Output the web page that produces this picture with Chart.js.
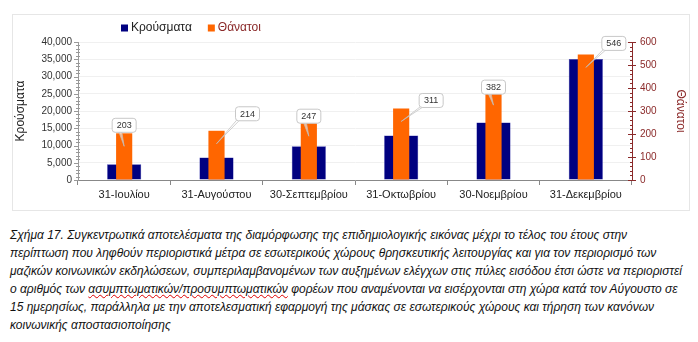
<!DOCTYPE html>
<html>
<head>
<meta charset="utf-8">
<script src="https://cdn.jsdelivr.net/npm/chart.js@4"></script>
<style>
  body { margin: 0; background: #fff; width: 698px; height: 342px; overflow: hidden; font-family: "Liberation Sans", Arial, sans-serif; }
  #box { position: absolute; left: 12px; top: 14px; width: 676px; height: 195px; border: 1px solid #e6e6e6; }
  #caption { position: absolute; left: 10px; top: 226px; font-style: italic; font-size: 12px; line-height: 18px; color: #111; white-space: nowrap; }
  .sp { text-decoration: underline wavy #d00; text-decoration-thickness: 1px; }
</style>
</head>
<body>
<div id="box"><canvas id="chart" width="676" height="195"></canvas></div>
<div id="caption">Σχήμα 17. Συγκεντρωτικά αποτελέσματα της διαμόρφωσης της επιδημιολογικής εικόνας μέχρι το τέλος του έτους στην<br>
περίπτωση που ληφθούν περιοριστικά μέτρα σε εσωτερικούς χώρους θρησκευτικής λειτουργίας και για τον περιορισμό των<br>
μαζικών κοινωνικών εκδηλώσεων, συμπεριλαμβανομένων των αυξημένων ελέγχων στις πύλες εισόδου έτσι ώστε να περιοριστεί<br>
ο αριθμός των <span class="sp">ασυμπτωματικών/προσυμπτωματικών</span> φορέων που αναμένονται να εισέρχονται στη χώρα κατά τον Αύγουστο σε<br>
15 ημερησίως, παράλληλα με την αποτελεσματική εφαρμογή της μάσκας σε εσωτερικούς χώρους και τήρηση των κανόνων<br>
κοινωνικής αποστασιοποίησης</div>
<script>
// δεδομένα
const labels = ['31-Ιουλίου', '31-Αυγούστου', '30-Σεπτεμβρίου', '31-Οκτωβρίου', '30-Νοεμβρίου', '31-Δεκεμβρίου'];
const krousmata = [4600, 6500, 9800, 12900, 16700, 35100];
const thanatoi = [203, 214, 247, 311, 382, 546];

// θέση των ετικετών (dx, dy από την κορυφή της μπάρας)
const calloutOffsets = [[0, -8], [31, -17], [0, -7], [30, -8], [0, -5], [28, -11]];

const darkRed = '#8b2a2a';
const font = "'Liberation Sans', Arial, sans-serif";

const minorTicks = {
  id: 'minorTicks',
  afterDraw(chart) {
    const ctx = chart.ctx;
    const y = chart.scales.y, y1 = chart.scales.y1;
    ctx.save();
    ctx.lineWidth = 1;
    ctx.strokeStyle = '#999';
    for (let v = 0; v <= 40000; v += 1000) {
      const py = Math.round(y.getPixelForValue(v)) + 0.5;
      const major = v % 5000 === 0;
      ctx.beginPath();
      ctx.moveTo(y.right - (major ? 4 : 2), py);
      ctx.lineTo(y.right + (major ? 0 : 2), py);
      ctx.stroke();
    }
    ctx.strokeStyle = darkRed;
    for (let v = 0; v <= 600; v += 20) {
      const py = Math.round(y1.getPixelForValue(v)) + 0.5;
      const major = v % 100 === 0;
      ctx.beginPath();
      ctx.moveTo(y1.left - (major ? 4 : 2), py);
      ctx.lineTo(y1.left + (major ? 4 : 0), py);
      ctx.stroke();
    }
    ctx.restore();
  }
};

// υπόμνημα
const legendBox = {
  id: 'legendBox',
  afterDraw(chart) {
    const ctx = chart.ctx;
    const ly = chart.chartArea.top - 14;
    let lx = 108;
    ctx.save();
    ctx.font = '12px ' + font;
    ctx.textBaseline = 'middle';
    chart.data.datasets.forEach((ds, i) => {
      ctx.fillStyle = ds.backgroundColor;
      ctx.fillRect(lx, ly - 3.5, 7, 7);
      ctx.fillStyle = i === 0 ? '#222' : darkRed;
      ctx.fillText(ds.label, lx + 10, ly);
      lx += 10 + ctx.measureText(ds.label).width + 16;
    });
    ctx.restore();
  }
};

const callouts = {
  id: 'callouts',
  afterDatasetsDraw(chart) {
    const ctx = chart.ctx;
    const meta = chart.getDatasetMeta(1);
    ctx.save();
    ctx.font = '9px ' + font;
    ctx.textAlign = 'center';
    ctx.textBaseline = 'middle';
    meta.data.forEach((bar, i) => {
      const [dx, dy] = calloutOffsets[i];
      const bx = bar.x + dx, by = bar.y + dy;
      const w = 24, h = 14;
      const tx = bar.x, ty = bar.y + 13;
      const sx = dx === 0 ? bx - 4 : bx - w / 2 + 3;
      const sy = by + h / 2 - 1;
      ctx.beginPath();
      ctx.moveTo(sx - 1.5, sy);
      ctx.lineTo(tx, ty);
      ctx.lineTo(sx + 1.5, sy);
      ctx.fillStyle = 'rgba(255,255,255,0.55)';
      ctx.fill();
      ctx.strokeStyle = 'rgba(190,190,190,0.9)';
      ctx.lineWidth = 0.8;
      ctx.stroke();
      ctx.beginPath();
      ctx.roundRect(bx - w / 2, by - h / 2, w, h, 3);
      ctx.fillStyle = '#fff';
      ctx.fill();
      ctx.strokeStyle = '#c8c8c8';
      ctx.lineWidth = 1;
      ctx.stroke();
      ctx.fillStyle = '#333';
      ctx.fillText(String(thanatoi[i]), bx, by + 0.5);
    });
    ctx.restore();
  }
};

new Chart(document.getElementById('chart'), {
  type: 'bar',
  data: {
    labels: labels,
    datasets: [
      {
        label: 'Κρούσματα',
        data: krousmata,
        yAxisID: 'y',
        backgroundColor: '#000080',
        borderColor: '#3a3ab0',
        borderWidth: 0.5,
        grouped: false,
        barPercentage: 0.37,
        categoryPercentage: 1,
        order: 2
      },
      {
        label: 'Θάνατοι',
        data: thanatoi,
        yAxisID: 'y1',
        backgroundColor: '#ff6600',
        borderWidth: 0,
        grouped: false,
        barPercentage: 0.175,
        categoryPercentage: 1,
        order: 1
      }
    ]
  },
  options: {
    responsive: false,
    animation: false,
    layout: { padding: { top: 27, right: 0, left: 0, bottom: 0 } },
    plugins: {
      tooltip: { enabled: false },
      legend: { display: false }
    },
    scales: {
      x: {
        afterFit(s) { s.height = 30; },
        grid: { offset: true, drawOnChartArea: false, color: '#888', tickLength: 5 },
        border: { color: '#888' },
        ticks: { color: '#222', font: { family: font, size: 11 }, padding: 3, maxRotation: 0 }
      },
      y: {
        position: 'left',
        min: 0,
        max: 40000,
        afterFit(s) { s.width = 65; },
        ticks: {
          stepSize: 5000,
          color: '#333',
          font: { family: font, size: 10 },
          padding: 6,
          callback: v => v.toLocaleString('en-US')
        },
        grid: { color: '#f0f0f0', drawTicks: false },
        border: { color: '#999' },
        title: { display: true, text: 'Κρούσματα', color: '#222', font: { family: font, size: 12 }, padding: 0 }
      },
      y1: {
        position: 'right',
        min: 0,
        max: 600,
        afterFit(s) { s.width = 57; },
        ticks: {
          stepSize: 100,
          color: darkRed,
          font: { family: font, size: 10 },
          padding: 8
        },
        grid: { drawOnChartArea: false, drawTicks: false },
        border: { color: darkRed },
        title: { display: true, text: 'Θάνατοι', color: darkRed, font: { family: font, size: 12 }, padding: 1 }
      }
    }
  },
  plugins: [minorTicks, legendBox, callouts]
});
</script>
</body>
</html>
